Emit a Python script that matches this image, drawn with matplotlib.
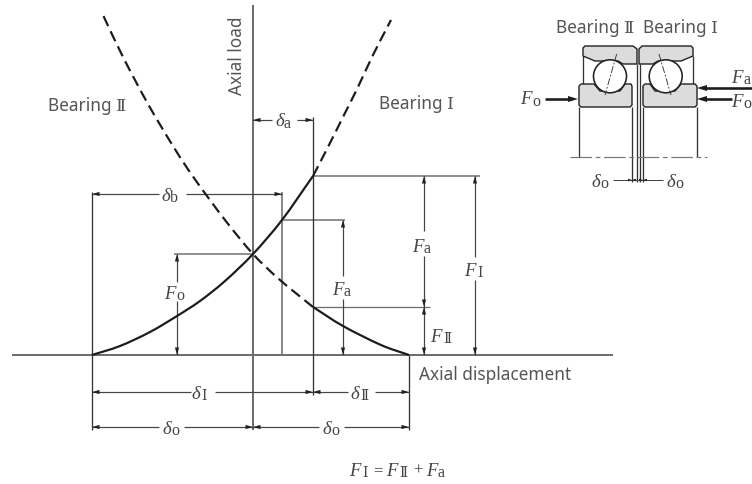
import matplotlib
matplotlib.use("Agg")
import matplotlib.pyplot as plt
import numpy as np
from matplotlib.patches import Polygon, Circle, PathPatch
from matplotlib.path import Path

# ---- data (image pixel coordinates) ----
curve1_solid_x = [92, 120, 150, 177, 200, 225, 253, 282, 313]
curve1_solid_y = [356, 347, 333, 317, 302, 282, 255, 221, 177]
curve1_dash_x = [313, 328, 343, 358, 373, 391]
curve1_dash_y = [177, 148, 118, 88, 56, 21]
curve2_solid_x = [409, 381, 343, 313]
curve2_solid_y = [356, 346, 327, 308]
curve2_dash_x = [313, 280, 253, 225, 194, 173, 148, 123, 103]
curve2_dash_y = [308, 281, 255, 221, 179, 147, 105, 58, 16]

gray_lines = [((12, 356), (613, 356), 2.0), ((253, 6), (253, 431), 2.0), ((282, 193), (282, 356), 1.6),
              ((313, 177), (480, 177), 1.5), ((282, 221), (345, 221), 1.5), ((174, 255), (253, 255), 1.5),
              ((313, 308), (430, 308), 1.3)]
dark_lines = [((313, 118), (313, 396)), ((92, 193), (92, 431)), ((409, 356), (409, 431))]
# start, end, gap start, gap end (along the running coordinate)
dims = [((92, 195), (282, 195), 159, 186), ((177, 255), (177, 356), 283, 302),
        ((343, 221), (343, 356), 277, 300), ((424, 177), (424, 308), 232, 257),
        ((424, 308), (424, 356), None, None), ((475, 177), (475, 356), 258, 281),
        ((253, 121), (313, 121), 272, 297), ((92, 393), (313, 393), 191, 215),
        ((313, 393), (409, 393), 348, 375), ((92, 428), (253, 428), 159, 184),
        ((253, 428), (409, 428), 319, 344)]
math_labels = [(170, 201, "δ", "b"), (176, 299, "F", "o"), (344, 295, "F", "a"), (424, 252, "F", "a"),
               (442, 342, "F", "Ⅱ"), (476, 276, "F", "Ⅰ"), (284, 126, "δ", "a"), (200, 399, "δ", "Ⅰ"),
               (359, 399, "δ", "Ⅱ"), (171, 434, "δ", "o"), (331, 434, "δ", "o"),
               (532, 104, "F", "o"), (743, 83, "F", "a"), (743, 107, "F", "o"),
               (600, 187, "δ", "o"), (675, 187, "δ", "o"),
               (361, 476, "F", "Ⅰ"), (398, 476, "F", "Ⅱ"), (438, 476, "F", "a")]
formula_signs = [(378, 475, "="), (418, 475, "+")]
text_labels = [(48, 106, "Bearing Ⅱ"), (379, 104, "Bearing Ⅰ"), (419, 375, "Axial displacement"),
               (556, 28, "Bearing Ⅱ"), (643, 28, "Bearing Ⅰ")]

outer_left = [(583, 57), (583, 49), (585, 47), (633, 47), (637, 50), (637, 65), (623, 65), (618, 62), (600, 62), (595, 62)]
outer_right = [(693, 57), (693, 49), (691, 47), (642, 47), (639, 50), (639, 65), (653, 65), (658, 62), (676, 62), (681, 62)]
inner_left = [(581, 85), (594, 85), (600, 92), (620, 92), (625, 85), (631, 85), (632, 87), (632, 106), (630, 108),
              (581, 108), (579, 106), (579, 87)]
inner_right = [(645, 85), (650, 85), (655, 92), (675, 92), (681, 85), (695, 85), (697, 87), (697, 106), (695, 108),
               (645, 108), (643, 106), (643, 87)]
balls = [(610, 77.3), (665.7, 77.3)]
ball_radius = 16.5
ball_axes = [((616.7, 55), (605, 96)), ((659, 55), (671, 96))]
inset_verticals = [((579, 108), (579, 158)), ((632, 108), (632, 183)), ((643, 108), (643, 183)), ((697, 108), (697, 158)),
                   ((637, 65), (637, 183)), ((639.5, 65), (639.5, 183)), ((583, 57), (583, 85)), ((693, 57), (693, 85))]
force_arrows = [((545, 100), (578, 100)), ((752, 89), (697, 89)), ((732, 100), (697, 100))]
inset_dims = [((613, 181), (632, 181)), ((638, 181), (632, 181)), ((638, 181), (643, 181)), ((663, 181), (643, 181))]

UI_FONT = ["Noto Sans", "DejaVu Serif"]
plt.rcParams["font.family"] = UI_FONT
DARK, GRAY, TXT = "#222222", "#6e6e6e", "#555555"
px = 0.72

fig = plt.figure(figsize=(7.52, 4.85), dpi=100)
ax = fig.add_axes([0, 0, 1, 1])
ax.set_xlim(0, 752)
ax.set_ylim(485, 0)
ax.axis("off")


def head(tip, frm, length=7.5, width=4.2, color=DARK, z=5):
    t, f = np.array(tip, float), np.array(frm, float)
    d = (t - f) / np.hypot(*(t - f))
    n = np.array([-d[1], d[0]])
    ax.add_patch(Polygon([t, t - d * length + n * width / 2, t - d * length - n * width / 2],
                         closed=True, fc=color, ec="none", zorder=z))


def smooth(xs, ys, **kw):
    """Stroke a curve through the read points (Catmull-Rom drawn as Bezier)."""
    p = np.column_stack([xs, ys]).astype(float)
    q = np.vstack([2 * p[0] - p[1], p, 2 * p[-1] - p[-2]])
    verts, codes = [p[0]], [Path.MOVETO]
    for i in range(1, len(q) - 2):
        verts += [q[i] + (q[i + 1] - q[i - 1]) / 6, q[i + 1] - (q[i + 2] - q[i]) / 6, q[i + 1]]
        codes += [Path.CURVE4] * 3
    ax.add_patch(PathPatch(Path(verts, codes), fc="none", **kw))


for a, b, w in gray_lines:
    ax.plot([a[0], b[0]], [a[1], b[1]], color=GRAY, lw=w * px, solid_capstyle="butt", zorder=1)
for a, b in dark_lines:
    ax.plot([a[0], b[0]], [a[1], b[1]], color="#333333", lw=1.3 * px, solid_capstyle="butt", zorder=2)

smooth(curve1_solid_x, curve1_solid_y, ec="#1c1c1c", lw=2.2 * px, zorder=4)
smooth(curve2_solid_x, curve2_solid_y, ec="#1c1c1c", lw=2.2 * px, zorder=4)
smooth(curve1_dash_x, curve1_dash_y, ec="#1c1c1c", lw=2.2 * px, ls=(0, (5, 2.6)), zorder=4)
smooth(curve2_dash_x, curve2_dash_y, ec="#1c1c1c", lw=2.2 * px, ls=(0, (5, 2.6)), zorder=4)

for a, b, g0, g1 in dims:
    horiz = a[1] == b[1]
    if g0 is None:
        segs = [(a, b)]
    elif horiz:
        segs = [(a, (g0, a[1])), ((g1, a[1]), b)]
    else:
        segs = [(a, (a[0], g0)), ((a[0], g1), b)]
    for p, q in segs:
        ax.plot([p[0], q[0]], [p[1], q[1]], color="#444444", lw=1.2 * px, solid_capstyle="butt", zorder=3)
    head(a, b)
    head(b, a)

for x, y, sym, sub in math_labels:
    ax.text(x, y, sym, family="Liberation Serif", style="italic", fontsize=13.5, color="#444444",
            ha="right", va="baseline", zorder=6)
    if sub in ("Ⅰ", "Ⅱ"):
        ax.text(x + 1, y + 1.5, sub, family="DejaVu Serif", fontsize=10, color="#444444",
                ha="left", va="baseline", zorder=6)
    else:
        ax.text(x, y + 1.5, sub, family="Liberation Serif", fontsize=11.5, color="#444444",
                ha="left", va="baseline", zorder=6)

for x, y, s in formula_signs:
    ax.text(x, y, s, family="Liberation Serif", fontsize=12, color="#444444", ha="center", va="baseline")

for x, y, s in text_labels:
    ax.text(x, y, s, fontsize=12.4, color=TXT, ha="left", va="center", zorder=6)
ax.text(237.5, 56, "Axial load", rotation=90, fontsize=12.4, color=TXT, ha="center", va="center", zorder=6)

# inset bearing
for poly in (outer_left, outer_right, inner_left, inner_right):
    ax.add_patch(Polygon(poly, closed=True, fc="#dcdcdc", ec="#222222", lw=1.4 * px, joinstyle="round", zorder=2))
for c in balls:
    ax.add_patch(Circle(c, ball_radius, fc="white", ec="#222222", lw=1.6 * px, zorder=3))
for a, b in ball_axes:
    ax.plot([a[0], b[0]], [a[1], b[1]], color="#333333", lw=0.9 * px, ls=(0, (8, 2, 2, 2)), zorder=4)
for a, b in inset_verticals:
    ax.plot([a[0], b[0]], [a[1], b[1]], color="#333333", lw=1.3 * px, solid_capstyle="butt", zorder=1)
ax.plot([570, 707], [157.7, 157.7], color="#777777", lw=1.2 * px, ls=(0, (18, 3, 4, 3)), zorder=1)
for a, b in force_arrows:
    ax.plot([a[0], b[0] - np.sign(b[0] - a[0]) * 6], [a[1], b[1]], color="#1c1c1c", lw=2.6 * px,
            solid_capstyle="butt", zorder=4)
    head(b, a, length=10, width=6, color="#1c1c1c")
for a, b in inset_dims:
    ax.plot([a[0], b[0]], [a[1], b[1]], color="#444444", lw=1.0 * px, solid_capstyle="butt", zorder=3)
    head(b, a, length=4, width=2.6)

fig.savefig("out.png", dpi=100)
